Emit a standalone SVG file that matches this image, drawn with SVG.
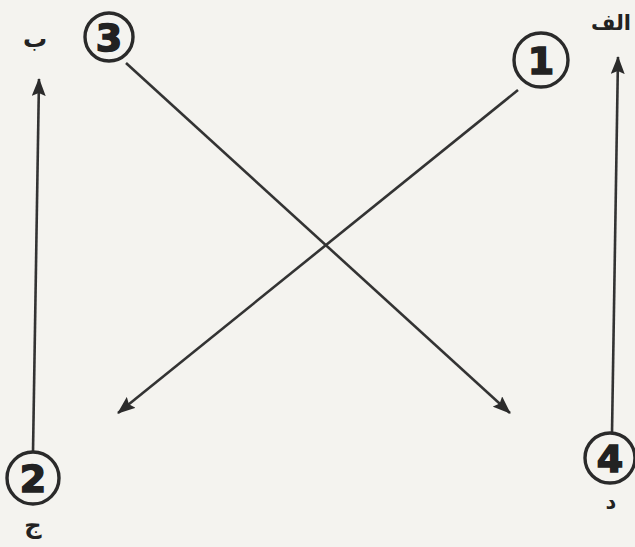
<svg xmlns="http://www.w3.org/2000/svg" width="635" height="547" viewBox="0 0 635 547">
<defs>
<marker id="ah" markerWidth="18" markerHeight="14" refX="17" refY="7" orient="auto" markerUnits="userSpaceOnUse">
<path d="M0,0 L18,7 L0,14 L3,7 z" fill="#2b2b2b"/>
</marker>
<style>
.conn{stroke:#333;stroke-width:2.6;fill:none;marker-end:url(#ah)}
.ring{fill:none;stroke:#2a2a2a;stroke-width:3.4}
.num{font-family:"DejaVu Sans","Liberation Sans",sans-serif;font-weight:bold;font-size:38px;fill:#222;stroke:#222;stroke-width:1.6;text-anchor:middle;dominant-baseline:central}
.lbl{font-family:"DejaVu Sans","Noto Sans",sans-serif;font-weight:bold;font-size:24px;fill:#222;text-anchor:middle}
</style>
</defs>
<rect width="635" height="547" fill="#f4f3ef"/>
<g id="connectors">
<line class="conn" x1="126" y1="63" x2="510" y2="413"/>
<line class="conn" x1="518" y1="90" x2="118" y2="413"/>
<line class="conn" x1="33" y1="452" x2="39" y2="79"/>
<line class="conn" x1="612" y1="433" x2="618" y2="57"/>
</g>
<g id="node1"><circle class="ring" cx="541" cy="60" r="27"/><text class="num" x="541" y="61">1</text></g>
<g id="node2"><circle class="ring" cx="33" cy="478" r="26"/><text class="num" x="33" y="479">2</text></g>
<g id="node3"><circle class="ring" cx="109" cy="37" r="24"/><text class="num" x="109" y="38">3</text></g>
<g id="node4"><circle class="ring" cx="610" cy="458" r="25"/><text class="num" x="610" y="459">4</text></g>
<g id="label-alif"><text class="lbl" x="611" y="30" style="font-size:21px">الف</text></g>
<g id="label-be"><text class="lbl" x="35" y="47">ب</text></g>
<g id="label-jim"><text class="lbl" x="33" y="533">ج</text></g>
<g id="label-dal"><text class="lbl" x="611" y="509" style="font-size:21px">د</text></g>
</svg>
